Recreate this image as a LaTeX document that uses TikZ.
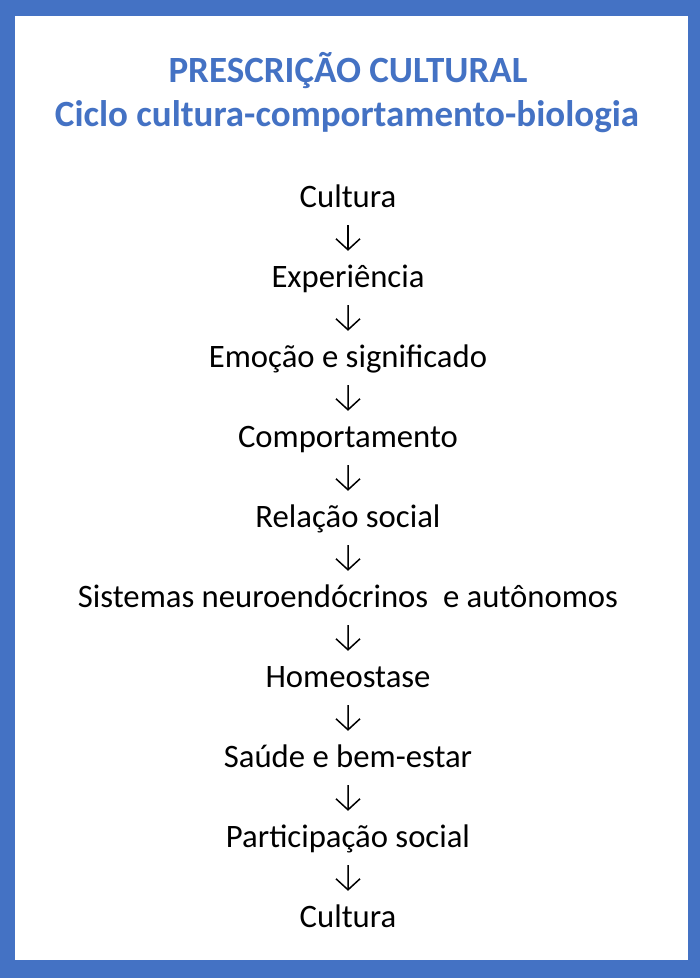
\documentclass[tikz,border=0pt]{standalone}
\usepackage{fontspec}
\setmainfont{Carlito}
\usetikzlibrary{arrows.meta}
\definecolor{frameblue}{HTML}{4472C4}

\begin{document}
\begin{tikzpicture}[x=1pt,y=1pt,
    edge from parent path=
    {(\tikzparentnode.south) -- (\tikzchildnode.north)},
    edge from parent/.style={draw, line width=1.5pt,
      -{Straight Barb[length=11pt,width=24pt]},
      shorten <=11pt, shorten >=12pt},
    level distance=80pt,
    every node/.style={font=\fontsize{32.7}{39}\selectfont,
      inner sep=0pt, text height=24pt, text depth=7pt},
    title/.style={font=\fontsize{37}{44}\selectfont\bfseries,
      text=frameblue, anchor=base}]

% frame
\fill[frameblue] (0,0) rectangle (700,-978);
\fill[white] (15,-16) rectangle (688,-960);

\node[title] (title1) at (348,-82) {PRESCRIÇÃO CULTURAL};
\node[title] (title2) at (347,-126) {Ciclo cultura-comportamento-biologia};

\node (cult1) at (348,-198.5) {Cultura}
    child {node (exper) {Experiência}
    child {node (emoc) {Emoção e significado}
    child {node (comport) {Comportamento}
    child {node (relac) {Relação social}
    child {node (sist) {Sistemas neuroendócrinos\ \ e autônomos}
    child {node (homeo) {Homeostase}
    child {node (saude) {Saúde e bem-estar}
    child {node (partic) {Participação social}
    child {node (cult2) {Cultura}
    }}}}}}}}};

\end{tikzpicture}
\end{document}
